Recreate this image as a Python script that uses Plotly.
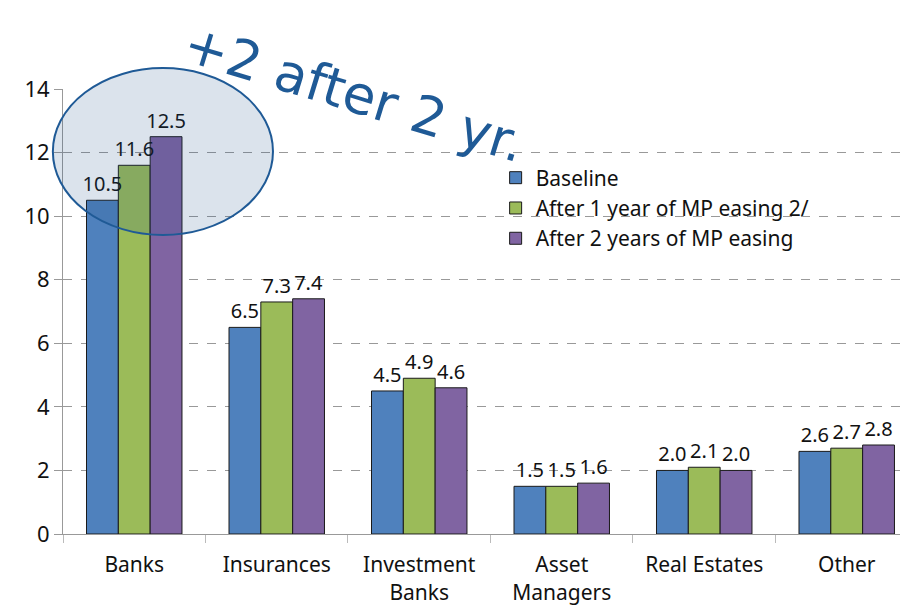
import plotly.graph_objects as go

# Datos
categorias = ["Banks", "Insurances", "Investment<br>Banks", "Asset<br>Managers", "Real Estates", "Other"]
baseline = [10.5, 6.5, 4.5, 1.5, 2.0, 2.6]
after_1yr = [11.6, 7.3, 4.9, 1.5, 2.1, 2.7]
after_2yr = [12.5, 7.4, 4.6, 1.6, 2.0, 2.8]

series = [
    ("Baseline", baseline, "#4F81BD"),
    ("After 1 year of MP easing 2/", after_1yr, "#9BBB59"),
    ("After 2 years of MP easing", after_2yr, "#8064A2"),
]

fig = go.Figure()
for i, (nombre, valores, color) in enumerate(series):
    fig.add_trace(go.Bar(
        x=categorias, y=valores, name=nombre, offsetgroup=str(i),
        marker=dict(color=color, line=dict(color="#1a1a1a", width=1)),
    ))
# etiquetas en trazas transparentes encima, para que ninguna barra las tape
for i, (nombre, valores, color) in enumerate(series):
    fig.add_trace(go.Bar(
        x=categorias, y=valores, offsetgroup=str(i), showlegend=False,
        marker=dict(color="rgba(0,0,0,0)", line=dict(width=0)),
        text=[f"{v:.1f}" for v in valores], textposition="outside",
        constraintext="none", hoverinfo="skip",
        textfont=dict(size=20, color="#111"), cliponaxis=False,
    ))

# la página añade 8px de margen al body: se compensa en los márgenes
fig.update_layout(
    barmode="group", bargap=0.33, bargroupgap=0,
    width=908, height=610,
    margin=dict(l=55, r=8, t=81, b=84),
    paper_bgcolor="white", plot_bgcolor="white",
    font=dict(family="Noto Sans", size=21, color="#111"),
    legend=dict(x=0.512, y=0.846, xanchor="left", yanchor="top",
                bgcolor="rgba(0,0,0,0)", font=dict(size=21),
                tracegroupgap=0, itemwidth=30),
    showlegend=True,
)
fig.update_xaxes(range=[-0.5, 5.43], showline=True, linecolor="#999",
                 ticks="outside", tickson="boundaries", ticklen=8, tickcolor="#bbb",
                 tickfont=dict(size=21), showgrid=False, ticklabelstandoff=12)
fig.update_yaxes(range=[0, 14], dtick=2, showline=True, linecolor="#999",
                 gridcolor="#999", griddash="dash", gridwidth=1,
                 tickfont=dict(size=22), zeroline=False, ticks="outside",
                 ticklen=8, tickcolor="#999")

# Elipse resaltando Banks
fig.add_shape(type="circle", xref="paper", yref="paper",
              x0=-0.012, x1=0.2485, y0=0.672, y1=1.047,
              fillcolor="rgba(31,78,135,0.16)",
              line=dict(color="#1F5A96", width=2))

fig.add_annotation(text="+2 after 2 yr.", xref="paper", yref="paper",
                   x=0.345, y=0.99, xanchor="center", yanchor="middle",
                   showarrow=False, textangle=17,
                   font=dict(family="DejaVu Sans", size=53, color="#1F5A96"))

fig.write_html("out.html")
